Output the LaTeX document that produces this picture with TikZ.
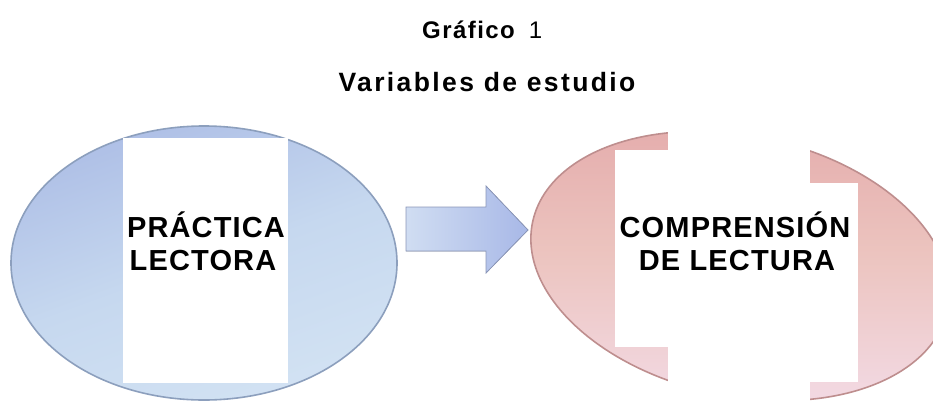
\documentclass[tikz,border=0pt]{standalone}
\usepackage{fontspec}
\setmainfont{Liberation Sans}
\usetikzlibrary{shapes.geometric}
\definecolor{blueA}{HTML}{C6D8EF}
\definecolor{blueB}{HTML}{AEBFE6}
\definecolor{blueC}{HTML}{D2E2F3}
\definecolor{blueEdge}{HTML}{8C9FBD}
\definecolor{pinkA}{HTML}{E4ABAB}
\definecolor{pinkB}{HTML}{ECC4BF}
\definecolor{pinkC}{HTML}{F2D8E1}
\definecolor{pinkEdge}{HTML}{BE8E8E}
\definecolor{arrA}{HTML}{D0DDF2}
\definecolor{arrB}{HTML}{A8B8E7}
\definecolor{arrEdge}{HTML}{8A96B8}
\begin{document}
\begin{tikzpicture}[x=1pt,y=-1pt,
  whitebox/.style={fill=white,draw=none},
  bigtext/.style={font=\fontsize{29}{33}\selectfont\bfseries\addfontfeatures{LetterSpace=4},inner sep=0,anchor=base},
]
\useasboundingbox (0,0) rectangle (933,402);
\clip (0,0) rectangle (933,402);

% title
\node[font=\fontsize{24}{27}\selectfont\addfontfeatures{LetterSpace=6},anchor=base west,inner sep=0] (t1) at (422,38) {\bfseries Gráfico\hspace{14pt}\mdseries 1};
\node[font=\fontsize{26.5}{29}\selectfont\bfseries\addfontfeatures{LetterSpace=9},anchor=base,inner sep=0] (t2) at (487,91) {Variables de estudio};

% left ellipse
\node[ellipse,minimum width=386pt,minimum height=274pt,inner sep=0,
      draw=blueEdge,line width=1.6pt,
      top color=blueB,bottom color=blueC,middle color=blueA,shading angle=20] (pe) at (204,263) {};
\fill[whitebox] (123,138) rectangle (288,383);
\node[bigtext] (p1) at (206,237) {PRÁCTICA};
\node[bigtext] (p2) at (203,270) {LECTORA};

% block arrow
\coordinate (a0) at (406,207);
\filldraw[draw=arrEdge,line width=0.8pt,left color=arrA,right color=arrB]
  (406,207) -- (486,207) -- (486,186) -- (528,230) -- (486,273) -- (486,251) -- (406,251) -- cycle;

% right ellipse
\node[ellipse,rotate=-12,minimum width=424pt,minimum height=260pt,inner sep=0,
      draw=pinkEdge,line width=1.6pt,
      top color=pinkA,bottom color=pinkC,middle color=pinkB] (ce) at (740,266) {};
\fill[whitebox] (615,150) rectangle (668,347);
\fill[whitebox] (668,108) rectangle (810,402);
\fill[whitebox] (803,183) rectangle (858,382);
\node[bigtext] (c1) at (735,237) {COMPRENSIÓN};
\node[bigtext] (c2) at (737,270) {DE LECTURA};
\end{tikzpicture}
\end{document}
